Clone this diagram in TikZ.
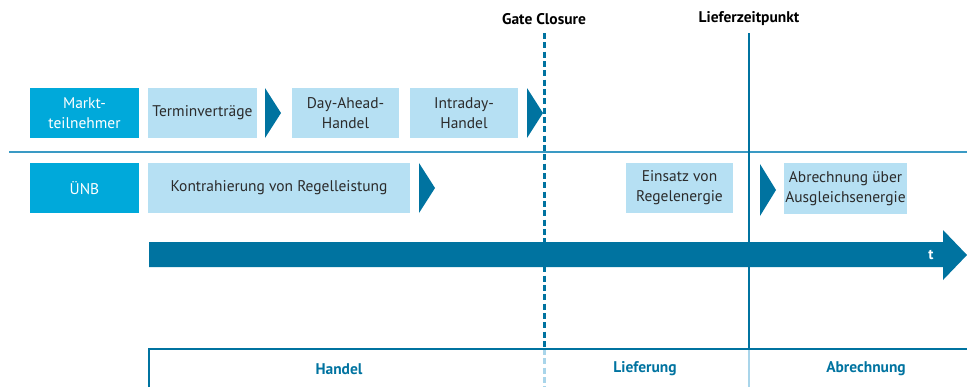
\documentclass[tikz,border=0pt]{standalone}
\usepackage{fontspec}
\setmainfont{PT Sans}
\usepackage{tikz}

\definecolor{cyanbox}{HTML}{00A9DA}
\definecolor{hellbox}{HTML}{B6E0F3}
\definecolor{dunkelblau}{HTML}{0073A0}
\definecolor{trennlinie}{HTML}{3A9AC4}
\definecolor{hellinie}{HTML}{A9D5EA}
\definecolor{textgrau}{HTML}{2B2B2B}

\begin{document}
\begin{tikzpicture}[x=0.75pt, y=-0.75pt,
    akteur/.style={rectangle, fill=cyanbox, text=white, align=center, inner sep=0pt,
        minimum width=81.75pt, minimum height=37.5pt, font=\fontsize{11.6}{15}\selectfont},
    schritt/.style={rectangle, fill=hellbox, text=textgrau, align=center, inner sep=0pt,
        minimum height=37.5pt, font=\fontsize{11.6}{15}\selectfont},
    pfeil/.style={fill=dunkelblau},
    kopf/.style={font=\bfseries\fontsize{11.6}{15}\selectfont, text=black},
    phase/.style={font=\bfseries\fontsize{11.6}{15}\selectfont, text=dunkelblau}]
    \useasboundingbox (0,0) rectangle (967,387);

    \node (markt) [akteur] at (84.5,113) {Markt-\\teilnehmer};
    \node (termin) [schritt, minimum width=81.75pt] at (202.5,113) {Terminverträge};
    \node (dayahead) [schritt, minimum width=80.25pt] at (345.5,113) {Day-Ahead-\\Handel};
    \node (intraday) [schritt, minimum width=81pt] at (464,113) {Intraday-\\Handel};

    \node (uenb) [akteur] at (84.5,188) {ÜNB};
    \node (kontra) [schritt, minimum width=196.5pt] at (279,188) {Kontrahierung von Regelleistung};
    \node (einsatz) [schritt, minimum width=80.25pt] at (679.5,188) {Einsatz von\\Regelenergie};
    \node (abrechnung) [schritt, minimum width=92.25pt, minimum height=38.25pt] at (845.5,188.5) {Abrechnung über\\Ausgleichsenergie};

    \fill[pfeil] (265,88) -- (281,113) -- (265,138) -- cycle;
    \fill[pfeil] (527,88) -- (543,113) -- (527,138) -- cycle;
    \fill[pfeil] (419,163) -- (435,188) -- (419,213) -- cycle;
    \fill[pfeil] (760,164) -- (776,190) -- (760,216) -- cycle;

    \draw[trennlinie, line width=1.5pt] (9,152) -- (967,152);

    \node (gate) [kopf] at (544,19) {Gate Closure};
    \node (liefer) [kopf] at (749,19) {Lieferzeitpunkt};
    \coordinate (gateunten) at (544,349);
    \coordinate (lieferunten) at (749,349);
    \draw[dunkelblau, line width=2.25pt, dash pattern=on 4.6pt off 2.4pt] (544,33) -- (gateunten);
    \draw[hellinie, line width=2.25pt, dash pattern=on 4.6pt off 2.4pt] (gateunten) -- (544,387);
    \draw[dunkelblau, line width=1.9pt] (749,33) -- (lieferunten);
    \draw[hellinie, line width=1.9pt] (lieferunten) -- (749,387);

    \fill[pfeil] (149,242) -- (943,242) -- (943,230) -- (967,255) -- (943,280)
        -- (943,267) -- (149,267) -- cycle;
    \node (t) [font=\bfseries\fontsize{11}{13}\selectfont, text=white] at (931,255) {t};

    \draw[dunkelblau, line width=1.5pt] (149,387) -- (149,349) -- (967,349);
    \node (handel) [phase] at (339,369) {Handel};
    \node (lieferung) [phase] at (645,369) {Lieferung};
    \node (abr) [phase] at (866,369) {Abrechnung};
\end{tikzpicture}
\end{document}
